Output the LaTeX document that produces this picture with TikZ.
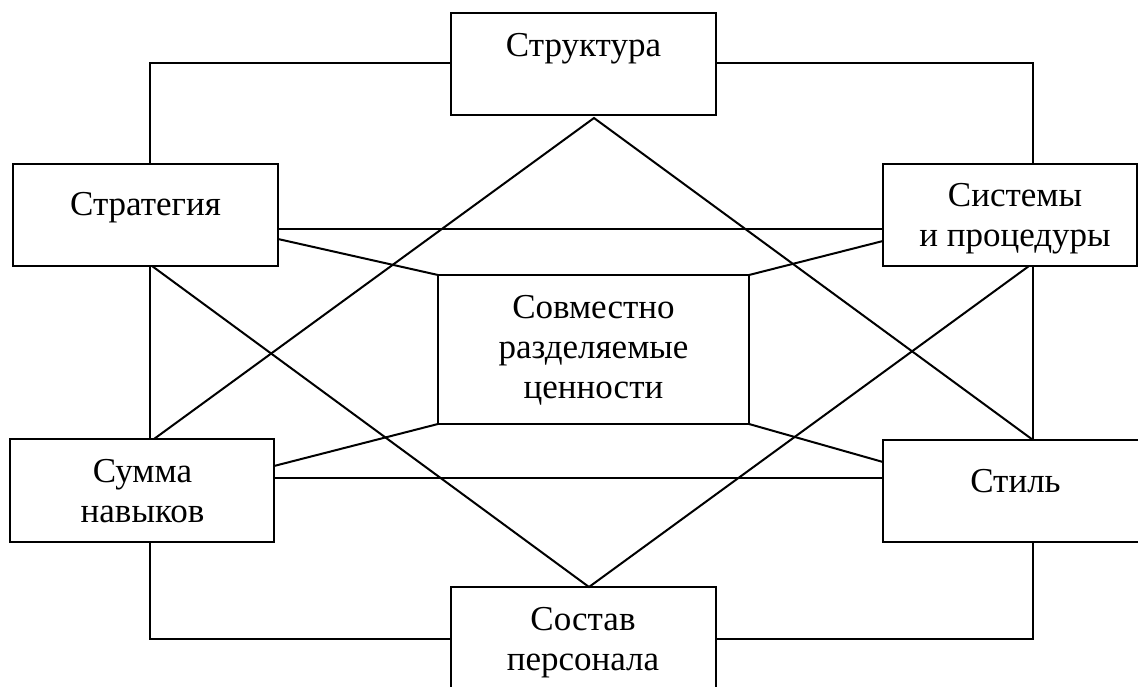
\documentclass[tikz,border=0pt]{standalone}
\usepackage{fontspec}
\setmainfont{Liberation Serif}
\begin{document}
\begin{tikzpicture}[x=1pt,y=-1pt,line width=2pt,
  box/.style={draw,rectangle,inner sep=0pt,outer sep=0pt,anchor=north west},
  lbl/.style={anchor=base,inner sep=0pt,outer sep=0pt,font=\fontsize{35}{40}\selectfont},
  link/.style={draw,line width=2pt,line join=miter}]
\useasboundingbox (0,0) rectangle (1138,687);
\clip (0,0) rectangle (1138,687);
% boxes
\node[box,minimum width=265pt,minimum height=102pt] (struct) at (451,13) {};
\node[box,minimum width=265pt,minimum height=102pt] (strat) at (13,164) {};
\node[box,minimum width=254pt,minimum height=102pt] (sys) at (883,164) {};
\node[box,minimum width=311pt,minimum height=149pt] (center) at (438,275) {};
\node[box,minimum width=264pt,minimum height=103pt] (skills) at (10,439) {};
\node[box,minimum width=267pt,minimum height=102pt] (style) at (883,440) {};
\node[box,minimum width=265pt,minimum height=113pt] (staff) at (451,587) {};
% labels
\node[lbl] (t1) at (583.5,57) {Структура};
\node[lbl] (t2) at (145.5,216) {Стратегия};
\node[lbl] (t3a) at (1015,207) {Системы};
\node[lbl] (t3b) at (1015,247) {и процедуры};
\node[lbl] (t4a) at (593.5,318) {Совместно};
\node[lbl] (t4b) at (593.5,358) {разделяемые};
\node[lbl] (t4c) at (593.5,398) {ценности};
\node[lbl] (t5a) at (142.5,482) {Сумма};
\node[lbl] (t5b) at (142.5,522) {навыков};
\node[lbl] (t6) at (1015.5,492) {Стиль};
\node[lbl] (t7a) at (583,630) {Состав};
\node[lbl] (t7b) at (583,670) {персонала};
% helper coordinates
\coordinate (xL) at (150,0);
\coordinate (xR) at (1033,0);
\coordinate (yT) at (0,63);
\coordinate (yB) at (0,639);
\coordinate (yH1) at (0,229);
\coordinate (yH2) at (0,478);
\coordinate (ySA) at (0,239);
\coordinate (ySB) at (0,241);
\coordinate (ySC) at (0,466);
\coordinate (ySD) at (0,462);
\coordinate (apexT) at (594,118);
\coordinate (xBA) at (589,0);
\coordinate (xD1) at (154,0);
\coordinate (xD2) at (152,0);
\coordinate (xD3) at (1029,0);
% outer frame
\path[link] (strat.north -| xL) -- (xL |- yT) -- (struct.west |- yT);
\path[link] (struct.east |- yT) -- (xR |- yT) -- (sys.north -| xR);
\path[link] (skills.south -| xL) -- (xL |- yB) -- (staff.west |- yB);
\path[link] (staff.east |- yB) -- (xR |- yB) -- (style.south -| xR);
\path[link] (strat.south -| xL) -- (skills.north -| xL);
\path[link] (sys.south -| xR) -- (style.north -| xR);
% horizontals
\path[link] (strat.east |- yH1) -- (sys.west |- yH1);
\path[link] (skills.east |- yH2) -- (style.west |- yH2);
% spokes to centre
\path[link] (strat.east |- ySA) -- (center.north west);
\path[link] (sys.west |- ySB) -- (center.north east);
\path[link] (skills.east |- ySC) -- (center.south west);
\path[link] (style.west |- ySD) -- (center.south east);
% diamond
\path[link] (skills.north -| xD1) -- (apexT) -- (style.north -| xR);
\path[link] (strat.south -| xD2) -- (staff.north -| xBA) -- (sys.south -| xD3);
\end{tikzpicture}
\end{document}
